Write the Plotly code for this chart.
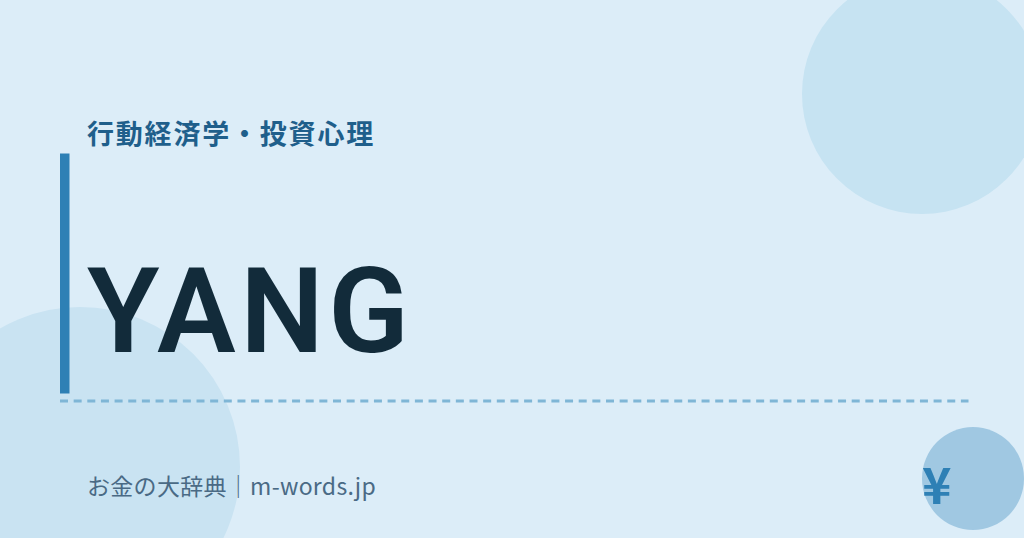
import plotly.graph_objects as go

# card texts
category = "行動経済学・投資心理"
term = "YANG"
site = "お金の大辞典｜m-words.jp"
yen = "¥"

# circles: x0, y0, x1, y1
circle_top = [802, -26, 1042, 214]
circle_left = [-80, 307, 240, 627]
circle_yen = [922, 427, 1024, 530]

BG = "#dcedf8"
CJK = "Noto Sans CJK JP"

fig = go.Figure()

def circle(c, color):
    fig.add_shape(type="circle", x0=c[0], y0=c[1], x1=c[2], y1=c[3],
                  fillcolor=color, line_width=0, layer="below")

circle(circle_top, "#c6e3f2")
circle(circle_left, "#c9e3f2")
circle(circle_yen, "#a0c8e2")

# accent bar and dashed rule
fig.add_shape(type="rect", x0=60, x1=69.5, y0=153.5, y1=393.5,
              fillcolor="#2e80b5", line_width=0)
fig.add_shape(type="line", x0=60, x1=968.5, y0=401, y1=401,
              line=dict(color="#7fb6d6", width=3, dash="8px,5.65px"))

def label(x, y, text, size, color, weight="normal", family=CJK):
    fig.add_annotation(x=x, y=y, text=text, showarrow=False, xanchor="left", yanchor="middle",
                       align="left",
                       font=dict(family=family, size=size, color=color, weight=weight))

label(85, 132, category, 27, "#1f5f8b", "bold")
label(85, 312, term, 118, "#122b3a", 600, "Roboto")
label(85, 485, site, 23, "#4a6a85")
label(920, 482, yen, 50, "#2e80b5", "bold")

fig.update_xaxes(range=[0, 1024], visible=False, fixedrange=True)
fig.update_yaxes(range=[538, 0], visible=False, fixedrange=True)
fig.update_layout(width=1024, height=538, margin=dict(l=0, r=0, t=0, b=0),
                  paper_bgcolor=BG, plot_bgcolor=BG, showlegend=False)

# plotly has no letter spacing setting, so set it on the drawn texts
spacing = ["1.8px", "4.5px", "0.3px", "0"]
post = """
document.body.style.margin='0';
document.body.style.background='%s';
var sp=%s;
document.querySelectorAll('.annotation-text').forEach(function(t,i){t.style.letterSpacing=sp[i];});
""" % (BG, spacing)

fig.write_html("out.html", config={"displayModeBar": False}, post_script=post)
